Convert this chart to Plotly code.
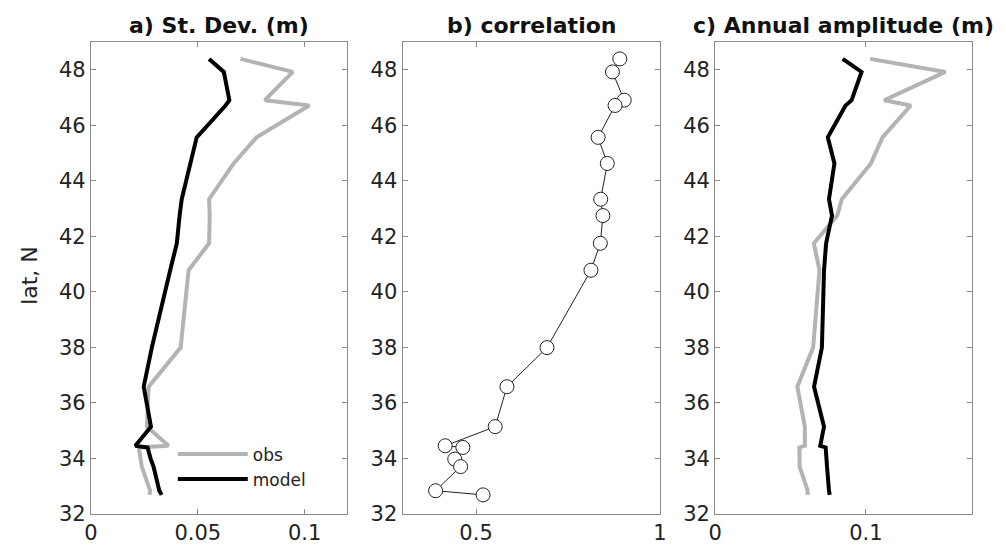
import plotly.graph_objects as go

# Latitude of stations (deg N)
lat = [48.40, 47.93, 46.91, 46.72, 45.57, 44.63, 43.34, 42.75, 41.75, 40.78,
       37.99, 36.58, 35.14, 34.45, 34.39, 33.97, 33.70, 32.83, 32.68]

# a) Standard deviation (m)
std_obs = [0.0700, 0.0945, 0.0814, 0.1022, 0.0775, 0.0668, 0.0553, 0.0556, 0.0553, 0.0457,
           0.0420, 0.0270, 0.0262, 0.0363, 0.0224, 0.0231, 0.0238, 0.0277, 0.0274]
std_model = [0.0553, 0.0622, 0.0648, 0.0630, 0.0495, 0.0465, 0.0425, 0.0415, 0.0402, 0.0371,
             0.0285, 0.0247, 0.0281, 0.0208, 0.0265, 0.0280, 0.0293, 0.0320, 0.0331]

# b) correlation
corr = [0.891, 0.871, 0.903, 0.878, 0.832, 0.857, 0.839, 0.845, 0.838, 0.8125,
        0.693, 0.584, 0.552, 0.416, 0.464, 0.442, 0.458, 0.390, 0.519]

# c) Annual amplitude (m)
amp_obs = [0.1028, 0.1527, 0.1121, 0.1297, 0.1110, 0.1033, 0.0840, 0.0810, 0.0655, 0.0692,
           0.0650, 0.0545, 0.0595, 0.0595, 0.0559, 0.0559, 0.0560, 0.0614, 0.0612]
amp_model = [0.0846, 0.0971, 0.0905, 0.0865, 0.0747, 0.0791, 0.0755, 0.0775, 0.0736, 0.0722,
             0.0708, 0.0656, 0.0722, 0.0697, 0.0733, 0.0737, 0.0742, 0.0755, 0.0760]

titles = ["a) St. Dev. (m)", "b) correlation", "c) Annual amplitude (m)"]
ytick_vals = [32, 34, 36, 38, 40, 42, 44, 46, 48]
xticks_a = [0, 0.05, 0.1]
xticks_b = [0.5, 1]
xticks_c = [0, 0.1]

W, H = 1006, 551
GRAY = "#b3b3b3"
AXC = "#8a8a8a"
FONT = "DejaVu Sans"

fig = go.Figure()

fig.add_trace(go.Scatter(x=std_obs, y=lat, mode="lines", name="obs",
                         line=dict(color=GRAY, width=4), xaxis="x", yaxis="y"))
fig.add_trace(go.Scatter(x=std_model, y=lat, mode="lines", name="model",
                         line=dict(color="black", width=4), xaxis="x", yaxis="y"))
fig.add_trace(go.Scatter(x=corr, y=lat, mode="lines+markers", showlegend=False,
                         line=dict(color="#222", width=1),
                         marker=dict(size=14, color="white", line=dict(color="#222", width=1)),
                         xaxis="x2", yaxis="y2"))
fig.add_trace(go.Scatter(x=amp_obs, y=lat, mode="lines", showlegend=False,
                         line=dict(color=GRAY, width=4), xaxis="x3", yaxis="y3"))
fig.add_trace(go.Scatter(x=amp_model, y=lat, mode="lines", showlegend=False,
                         line=dict(color="black", width=4), xaxis="x3", yaxis="y3"))

px_dom = [(77, 337), (393, 654), (710, 970)]
top_px, bot_px = 35, 517
ydom = [(H - bot_px) / H, (H - top_px) / H]

common = dict(showline=True, linecolor=AXC, linewidth=1, mirror="ticks", ticks="inside",
              ticklen=5, tickcolor=AXC, showgrid=False, zeroline=False,
              tickfont=dict(family=FONT, size=21, color="#222"))

xranges = [[0, 0.12], [0.3, 1], [0, 0.17]]
xtvals = [xticks_a, xticks_b, xticks_c]
for i in range(3):
    sx = "" if i == 0 else str(i + 1)
    fig.update_layout({
        "xaxis" + sx: dict(common, domain=[px_dom[i][0] / W, px_dom[i][1] / W],
                           range=xranges[i], tickvals=xtvals[i],
                           ticktext=[("%g" % v) for v in xtvals[i]],
                           anchor="y" + sx),
        "yaxis" + sx: dict(common, domain=ydom, range=[32, 49], tickvals=ytick_vals,
                           anchor="x" + sx),
    })
    fig.add_annotation(text="<b>%s</b>" % titles[i], xref="paper", yref="paper",
                       x=(px_dom[i][0] + px_dom[i][1]) / 2 / W, y=(H - 18) / H,
                       xanchor="center", yanchor="middle", showarrow=False,
                       font=dict(family=FONT, size=22, color="#111"))

fig.add_annotation(text="lat, N", xref="paper", yref="paper", x=14 / W, y=(H - 273) / H,
                   textangle=-90, xanchor="center", yanchor="middle", showarrow=False,
                   font=dict(family=FONT, size=22, color="#222"))

fig.update_layout(
    width=W, height=H, margin=dict(l=0, r=0, t=0, b=0),
    paper_bgcolor="white", plot_bgcolor="white",
    legend=dict(x=160 / W, y=(H - 438) / H, xanchor="left", yanchor="top",
                bgcolor="rgba(0,0,0,0)", itemwidth=70, tracegroupgap=0,
                font=dict(family=FONT, size=17, color="#222")),
)

fig.write_html("out.html")
